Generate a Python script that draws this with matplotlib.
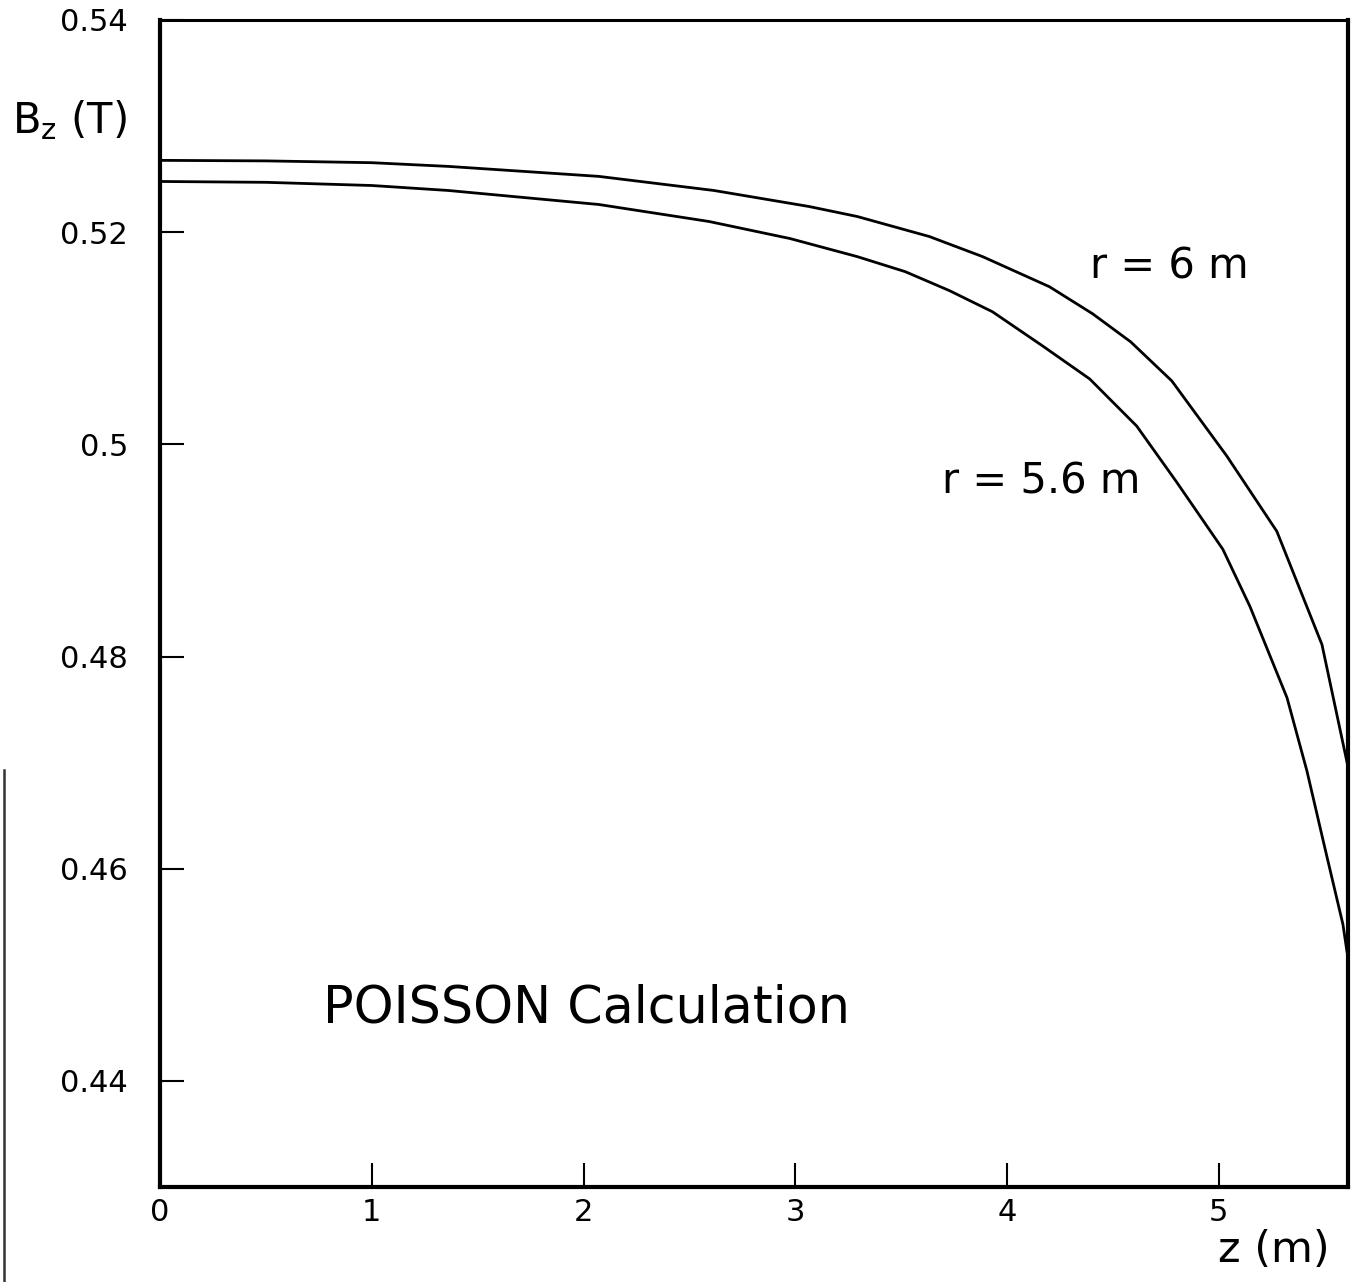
import matplotlib
matplotlib.use("Agg")
import matplotlib.pyplot as plt
from matplotlib.lines import Line2D

plt.rcParams['font.family'] = ['DejaVu Sans']
plt.rcParams['mathtext.fontset'] = 'dejavusans'

# r = 6 m curve (z in m, Bz in T)
z_r6 = [0.0, 0.5, 1.0, 1.362, 2.072, 2.616, 3.065, 3.292, 3.633, 3.884, 4.200,
        4.404, 4.584, 4.778, 5.038, 5.274, 5.487, 5.605]
b_r6 = [0.52677, 0.52672, 0.52655, 0.52620, 0.52526, 0.52393, 0.52242, 0.52148,
        0.51959, 0.51770, 0.51486, 0.51231, 0.50966, 0.50598, 0.49889, 0.49180,
        0.48113, 0.47007]

# r = 5.6 m curve
z_r56 = [0.0, 0.5, 1.0, 1.362, 2.072, 2.592, 2.975, 3.292, 3.519, 3.728, 3.931,
         4.167, 4.390, 4.612, 4.801, 5.019, 5.147, 5.322, 5.416, 5.501, 5.586, 5.605]
b_r56 = [0.52478, 0.52470, 0.52440, 0.52393, 0.52261, 0.52101, 0.51940, 0.51770,
         0.51628, 0.51449, 0.51250, 0.50929, 0.50617, 0.50173, 0.49644, 0.49011,
         0.48472, 0.47612, 0.46922, 0.46194, 0.45476, 0.45221]

x_ticks = [0, 1, 2, 3, 4, 5]
x_ticklabels = ["0", "1", "2", "3", "4", "5"]
y_ticks = [0.44, 0.46, 0.48, 0.50, 0.52, 0.54]
y_ticklabels = ["0.44", "0.46", "0.48", "0.5", "0.52", "0.54"]

W, H = 1351, 1282
fig = plt.figure(figsize=(W / 100, H / 100), dpi=100)
ax = fig.add_axes([160 / W, 1 - 1187 / H, (1348 - 160) / W, (1187 - 20) / H])

ax.plot(z_r6, b_r6, color='black', lw=2.0)
ax.plot(z_r56, b_r56, color='black', lw=2.0)

ax.set_xlim(0, 5.61)
ax.set_ylim(0.43, 0.54)

ax.set_xticks(x_ticks)
ax.set_xticklabels(x_ticklabels)
ax.set_yticks(y_ticks)
ax.set_yticklabels(y_ticklabels)
ax.tick_params(axis='both', direction='in', length=17, width=1.5, labelsize=22,
               colors='black')
ax.tick_params(axis='y', pad=23)
ax.tick_params(axis='x', pad=8)

for s in ax.spines.values():
    s.set_linewidth(3.0)
    s.set_color('black')
ax.spines['top'].set_linewidth(2.2)

ax.text(4.39, 0.51675, "r = 6 m", fontsize=30, ha='left', va='center')
ax.text(3.694, 0.49653, "r = 5.6 m", fontsize=30, ha='left', va='center')
ax.text(0.771, 0.44682, "POISSON Calculation", fontsize=36.5, ha='left', va='center')

fig.text(12 / W, 1 - 120 / H, r"B$_{\mathregular{z}}$ (T)", fontsize=30,
         ha='left', va='center')
fig.text(1330 / W, 1 - 1250 / H, "z (m)", fontsize=31, ha='right', va='center')

# scan edge line at the far left
fig.add_artist(Line2D([4 / W, 4 / W], [0, 1 - 770 / H], color='#333333', lw=1.8))

fig.savefig("out.png", dpi=100, facecolor='white')
